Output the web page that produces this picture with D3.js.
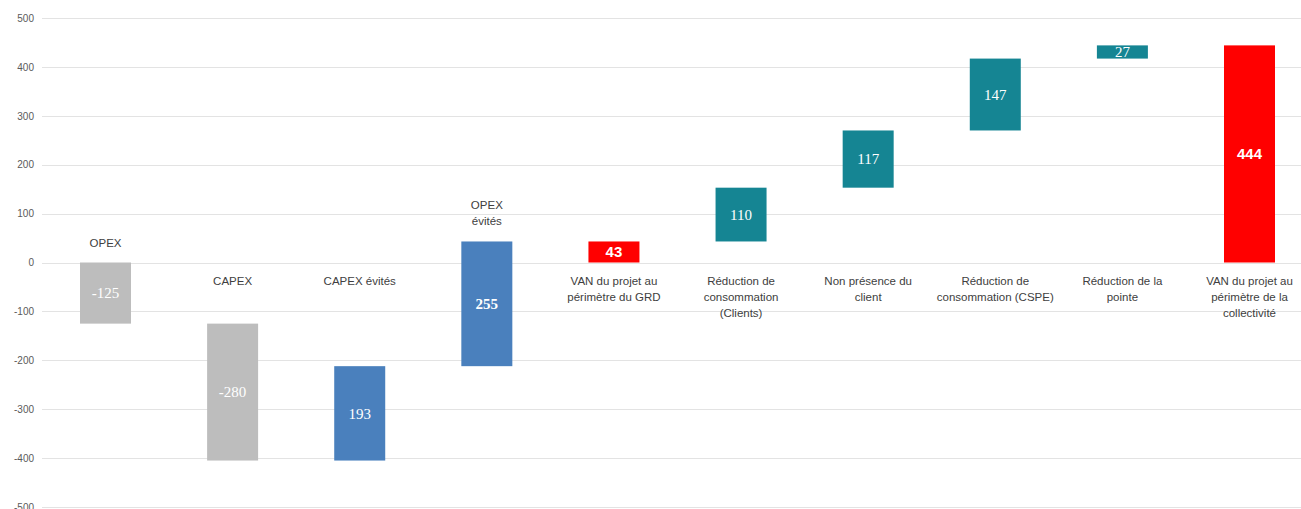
<!DOCTYPE html>
<html>
<head>
<meta charset="utf-8">
<script src="https://cdn.jsdelivr.net/npm/d3@7"></script>
<style>
  html, body { margin: 0; padding: 0; background: #fff; }
  svg { display: block; }
</style>
</head>
<body>
<svg id="chart" width="1301" height="509"></svg>
<script>
// ---- Data ----
const categories = [
  "OPEX",
  "CAPEX",
  "CAPEX évités",
  "OPEX\névités",
  "VAN du projet au\npérimètre du GRD",
  "Réduction de\nconsommation\n(Clients)",
  "Non présence du\nclient",
  "Réduction de\nconsommation (CSPE)",
  "Réduction de la\npointe",
  "VAN du projet au\npérimètre de la\ncollectivité"
];
const values = [-125, -280, 193, 255, 43, 110, 117, 147, 27, 444];
const kinds = ["cost", "cost", "avoided", "avoided", "total", "benefit", "benefit", "benefit", "benefit", "total"];
const yTicks = [-500, -400, -300, -200, -100, 0, 100, 200, 300, 400, 500];

// ---- Styles ----
const colors = { cost: "#BDBDBD", avoided: "#4A80BD", total: "#FF0000", benefit: "#158593" };
const valueFont = { cost: "'Liberation Serif', serif", avoided: "'Liberation Serif', serif", total: "'Liberation Sans', Arial, sans-serif", benefit: "'Liberation Serif', serif" };

// ---- Waterfall computation ----
let running = 0;
const bars = categories.map((c, i) => {
  const k = kinds[i];
  let start, end;
  if (k === "total") { start = 0; end = values[i]; running = values[i]; }
  else { start = running; end = running + values[i]; running = end; }
  return { cat: c, value: values[i], kind: k, lo: Math.min(start, end), hi: Math.max(start, end), i };
});

const svg = d3.select("#chart");
const W = 1301, H = 509;

const y = d3.scaleLinear().domain([-500, 500]).range([507, 18]);
const x = d3.scalePoint().domain(d3.range(categories.length)).range([105.5, 1249.5]);
const barW = 51;

// gridlines
svg.append("g").selectAll("line").data(yTicks).join("line")
  .attr("x1", 42).attr("x2", W)
  .attr("y1", d => Math.round(y(d)) + 0.5).attr("y2", d => Math.round(y(d)) + 0.5)
  .attr("stroke", "#E3E3E3").attr("stroke-width", 1.2);

// y axis
const yAxis = d3.axisLeft(y).tickValues(yTicks).tickSize(0).tickPadding(0)
  .tickFormat(d => String(d));
const ag = svg.append("g").attr("transform", "translate(34,0)").call(yAxis);
ag.select(".domain").remove();
ag.selectAll("text")
  .attr("font-family", "'Liberation Sans', Arial, sans-serif")
  .attr("font-size", 10).attr("fill", "#5A5A5A");

// bars
svg.append("g").selectAll("rect").data(bars).join("rect")
  .attr("x", d => x(d.i) - barW / 2)
  .attr("width", barW)
  .attr("y", d => y(d.hi))
  .attr("height", d => y(d.lo) - y(d.hi))
  .attr("fill", d => colors[d.kind]);

// value labels
svg.append("g").selectAll("text").data(bars).join("text")
  .attr("x", d => x(d.i))
  .attr("y", d => (y(d.hi) + y(d.lo)) / 2)
  .attr("dy", "0.36em")
  .attr("text-anchor", "middle")
  .attr("font-family", d => valueFont[d.kind])
  .attr("font-weight", d => d.kind === "total" || d.i === 3 ? "bold" : "normal")
  .attr("font-size", 15)
  .attr("fill", "#fff")
  .text(d => d.value);

// category labels
const lineH = 16;
const catG = svg.append("g");
bars.forEach(d => {
  const lines = d.cat.split("\n");
  const overlapsBelowZero = d.hi >= 0 && d.lo < 0;
  let firstY;
  if (overlapsBelowZero) {
    const topY = y(d.hi);
    firstY = topY - 16 - (lines.length - 1) * lineH;
  } else {
    firstY = y(0) + 22;
  }
  const t = catG.append("text")
    .attr("text-anchor", "middle")
    .attr("font-family", "'Liberation Sans', Arial, sans-serif")
    .attr("font-size", 11.5)
    .attr("fill", "#404040");
  lines.forEach((ln, j) => {
    t.append("tspan").attr("x", x(d.i)).attr("y", firstY + j * lineH).text(ln);
  });
});
</script>
</body>
</html>
